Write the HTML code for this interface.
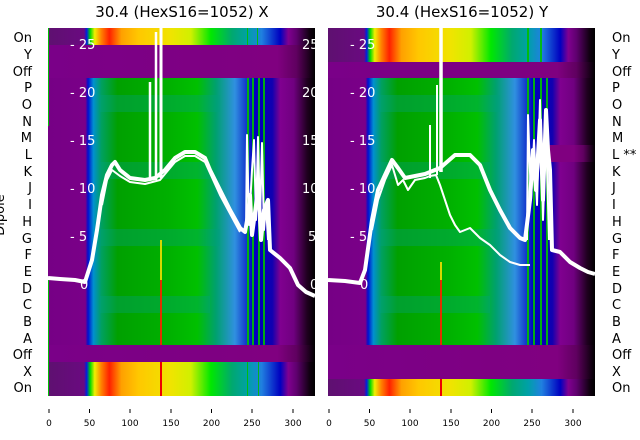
<!DOCTYPE html>
<html><head><meta charset="utf-8"><style>
html,body{margin:0;padding:0;background:#fff;}
svg{display:block;font-family:"DejaVu Sans","Liberation Sans",sans-serif;}
</style></head><body>
<svg width="640" height="440" viewBox="0 0 640 440" xmlns="http://www.w3.org/2000/svg">
<defs>
<linearGradient id="top" x1="0" x2="1" y1="0" y2="0">
<stop offset="0" stop-color="#5e1070"/><stop offset="0.135" stop-color="#6a0a80"/>
<stop offset="0.145" stop-color="#0020e0"/><stop offset="0.158" stop-color="#00d800"/>
<stop offset="0.175" stop-color="#f0f000"/><stop offset="0.2" stop-color="#ff8000"/>
<stop offset="0.23" stop-color="#ff2000"/><stop offset="0.275" stop-color="#ffa000"/>
<stop offset="0.34" stop-color="#ffc800"/><stop offset="0.46" stop-color="#f0e400"/>
<stop offset="0.535" stop-color="#d0f000"/><stop offset="0.61" stop-color="#00e800"/>
<stop offset="0.69" stop-color="#00a870"/><stop offset="0.75" stop-color="#00a0a8"/>
<stop offset="0.8" stop-color="#2080e0"/><stop offset="0.87" stop-color="#0000c0"/>
<stop offset="0.9" stop-color="#800090"/><stop offset="0.93" stop-color="#600070"/>
<stop offset="0.98" stop-color="#100010"/><stop offset="1" stop-color="#000"/>
</linearGradient>
<linearGradient id="band" x1="0" x2="1" y1="0" y2="0">
<stop offset="0" stop-color="#760085"/><stop offset="0.14" stop-color="#7a0088"/>
<stop offset="0.15" stop-color="#0010d0"/><stop offset="0.17" stop-color="#0090d0"/>
<stop offset="0.2" stop-color="#00a060"/><stop offset="0.26" stop-color="#00a000"/>
<stop offset="0.45" stop-color="#00b000"/><stop offset="0.56" stop-color="#00c000"/>
<stop offset="0.63" stop-color="#00a070"/><stop offset="0.7" stop-color="#3090e0"/>
<stop offset="0.77" stop-color="#0000c0"/><stop offset="0.84" stop-color="#1000b0"/>
<stop offset="0.87" stop-color="#800090"/><stop offset="0.92" stop-color="#700080"/>
<stop offset="0.97" stop-color="#200020"/><stop offset="1" stop-color="#000"/>
</linearGradient>
<linearGradient id="purp" x1="0" x2="1" y1="0" y2="0">
<stop offset="0" stop-color="#7a0088"/><stop offset="0.86" stop-color="#800080"/>
<stop offset="0.93" stop-color="#600060"/><stop offset="1" stop-color="#000"/>
</linearGradient>
<linearGradient id="purpR" x1="0" x2="1" y1="0" y2="0">
<stop offset="0" stop-color="#800080"/><stop offset="0.55" stop-color="#800080"/>
<stop offset="0.75" stop-color="#600060"/><stop offset="1" stop-color="#000"/>
</linearGradient>
<clipPath id="cl"><rect x="48" y="28" width="272" height="368"/></clipPath>
</defs>

<text x="182" y="17" font-size="15" text-anchor="middle">30.4 (HexS16=1052) X</text>
<text x="462" y="17" font-size="15" text-anchor="middle">30.4 (HexS16=1052) Y</text>

<!-- LEFT PANEL -->
<rect x="48" y="28" width="267" height="17" fill="url(#top)"/>
<rect x="48" y="45" width="267" height="33" fill="url(#purp)"/>
<rect x="48" y="78" width="267" height="267" fill="url(#band)"/>
<g fill="#00a080" opacity="0.35">
<rect x="100" y="95" width="120" height="17"/><rect x="100" y="162" width="110" height="17"/>
<rect x="100" y="229" width="120" height="17"/><rect x="100" y="296" width="110" height="17"/>
</g>
<rect x="48" y="345" width="267" height="17" fill="url(#purp)"/>
<rect x="48" y="362" width="267" height="34" fill="url(#top)"/>
<g fill="#00c000" opacity="0.9">
<rect x="247" y="78" width="2" height="267"/><rect x="252" y="78" width="2" height="267"/>
<rect x="258" y="78" width="2" height="267"/><rect x="263" y="78" width="2" height="267"/>
<rect x="247" y="28" width="1" height="17"/><rect x="257" y="28" width="1" height="17"/>
<rect x="247" y="362" width="1" height="34"/><rect x="258" y="362" width="1" height="34"/>
</g>
<rect x="160" y="280" width="2" height="65" fill="#e03000"/>
<rect x="160" y="362" width="2" height="34" fill="#ee0000"/>
<rect x="160" y="240" width="2" height="40" fill="#d8d800"/>
<rect x="48" y="28" width="1" height="98" fill="#00c000"/>
<rect x="48" y="280" width="1" height="116" fill="#00c000"/>

<g fill="#fff" font-size="13">
<text x="70" y="49">- 25</text><text x="70" y="97">- 20</text><text x="70" y="145">- 15</text>
<text x="70" y="193">- 10</text><text x="70" y="241">- 5</text><text x="80" y="289">0</text>
</g>
<g fill="#fff" font-size="13" clip-path="url(#cl)">
<text x="302" y="49">25</text><text x="302" y="97">20</text><text x="302" y="145">15</text>
<text x="302" y="193">10</text><text x="308" y="241">5</text><text x="310" y="289">0</text>
</g>

<g fill="none" stroke="#fff" stroke-linejoin="round" clip-path="url(#cl)">
<polyline stroke-width="4" points="48,278 60,279 75,280 85,282 92,260 97,230 102,195 107,175 112,165 115,162 120,170 130,178 145,180 155,178 165,170 175,158 185,152 195,152 205,158 210,170 220,190 230,210 240,228 245,232 248,215 250,195 252,235 256,205 258,180 261,240 264,210 268,200 270,250 280,258 290,268 298,285 306,292 315,296"/>
<polyline stroke-width="2" points="102,205 107,180 112,170 120,176 130,182 145,184 160,180 175,162 185,156 195,156 205,162 220,195 240,232"/>
<polyline stroke-width="2" points="246,230 247,135 249,225 252,170 254,140 256,220 258,137 260,220 262,143 264,230 266,205 268,240"/>
<line x1="150" y1="180" x2="150" y2="82" stroke-width="2.5"/>
<line x1="156" y1="180" x2="156" y2="32" stroke-width="2.5"/>
<line x1="161" y1="178" x2="161" y2="28" stroke-width="3"/>
</g>

<!-- RIGHT PANEL -->
<rect x="328" y="28" width="267" height="34" fill="url(#top)"/>
<rect x="328" y="62" width="267" height="16" fill="url(#purp)"/>
<rect x="328" y="78" width="267" height="267" fill="url(#band)"/>
<g fill="#00a080" opacity="0.35">
<rect x="380" y="95" width="120" height="17"/><rect x="380" y="162" width="110" height="17"/>
<rect x="380" y="229" width="120" height="17"/><rect x="380" y="296" width="110" height="17"/>
</g>
<rect x="548" y="145" width="47" height="17" fill="url(#purpR)"/>
<rect x="328" y="345" width="267" height="34" fill="url(#purp)"/>
<rect x="328" y="379" width="267" height="17" fill="url(#top)"/>
<g fill="#00c000" opacity="0.9">
<rect x="527" y="78" width="2" height="267"/><rect x="533" y="78" width="2" height="267"/>
<rect x="540" y="78" width="2" height="267"/><rect x="546" y="78" width="2" height="267"/>
<rect x="527" y="28" width="2" height="34"/><rect x="540" y="28" width="2" height="34"/>
</g>
<rect x="440" y="280" width="2" height="65" fill="#e03000"/>
<rect x="440" y="379" width="2" height="17" fill="#ee0000"/>
<rect x="440" y="262" width="2" height="18" fill="#d8d800"/>
<g fill="#fff" font-size="13">
<text x="350" y="49">- 25</text><text x="350" y="97">- 20</text><text x="350" y="145">- 15</text>
<text x="350" y="193">- 10</text><text x="350" y="241">- 5</text><text x="360" y="289">0</text>
</g>
<g fill="none" stroke="#fff" stroke-linejoin="round">
<polyline stroke-width="4" points="328,280 345,281 360,283 365,270 372,220 378,190 385,175 392,160 398,168 405,178 415,176 425,174 440,168 455,155 470,155 480,165 490,190 500,210 510,228 520,238 525,240 530,200 533,150 536,190 540,120 543,200 546,110 548,150 550,170 552,250 560,252 570,262 580,268 588,272 595,274"/>
<polyline stroke-width="2" points="372,230 378,200 385,180 392,165 398,185 403,180 408,190 415,180 425,178 430,176 436,175 440,185 445,200 450,215 455,225 460,232 470,228 480,238 490,245 500,255 510,262 520,265 530,265"/>
<polyline stroke-width="2" points="527,240 528,115 531,200 534,140 537,205 540,100 543,220 546,130 549,240"/>
<line x1="430" y1="178" x2="430" y2="125" stroke-width="2"/>
<line x1="437" y1="175" x2="437" y2="85" stroke-width="2"/>
<line x1="441" y1="172" x2="441" y2="28" stroke-width="3.5"/>
</g>

<g font-size="13" text-anchor="end" fill="#000">
<text x="32" y="42">On</text><text x="32" y="59">Y</text><text x="32" y="76">Off</text>
<text x="32" y="92">P</text><text x="32" y="109">O</text><text x="32" y="126">N</text>
<text x="32" y="142">M</text><text x="32" y="159">L</text><text x="32" y="176">K</text>
<text x="32" y="192">J</text><text x="32" y="209">I</text><text x="32" y="226">H</text>
<text x="32" y="243">G</text><text x="32" y="259">F</text><text x="32" y="276">E</text>
<text x="32" y="293">D</text><text x="32" y="309">C</text><text x="32" y="326">B</text>
<text x="32" y="343">A</text><text x="32" y="359">Off</text><text x="32" y="376">X</text>
<text x="32" y="392">On</text>
</g>
<text transform="translate(4,215) rotate(-90)" font-size="13" text-anchor="middle">Dipole</text>
<g font-size="13" fill="#000">
<text x="612" y="42">On</text><text x="612" y="59">Y</text><text x="612" y="76">Off</text>
<text x="612" y="92">P</text><text x="612" y="109">O</text><text x="612" y="126">N</text>
<text x="612" y="142">M</text><text x="612" y="159">L **</text><text x="612" y="176">K</text>
<text x="612" y="192">J</text><text x="612" y="209">I</text><text x="612" y="226">H</text>
<text x="612" y="243">G</text><text x="612" y="259">F</text><text x="612" y="276">E</text>
<text x="612" y="293">D</text><text x="612" y="309">C</text><text x="612" y="326">B</text>
<text x="612" y="343">A</text><text x="612" y="359">Off</text><text x="612" y="376">X</text>
<text x="612" y="392">On</text>
</g>

<g stroke="#000" stroke-width="1">
<line x1="49" y1="409" x2="49" y2="413"/><line x1="89.5" y1="409" x2="89.5" y2="413"/><line x1="130" y1="409" x2="130" y2="413"/><line x1="171" y1="409" x2="171" y2="413"/><line x1="211.5" y1="409" x2="211.5" y2="413"/><line x1="252" y1="409" x2="252" y2="413"/><line x1="293" y1="409" x2="293" y2="413"/>
<line x1="329" y1="409" x2="329" y2="413"/><line x1="369.5" y1="409" x2="369.5" y2="413"/><line x1="410" y1="409" x2="410" y2="413"/><line x1="451" y1="409" x2="451" y2="413"/><line x1="491.5" y1="409" x2="491.5" y2="413"/><line x1="532" y1="409" x2="532" y2="413"/><line x1="573" y1="409" x2="573" y2="413"/>
</g>
<g font-size="9" text-anchor="middle" fill="#000">
<text x="49" y="426">0</text><text x="89.5" y="426">50</text><text x="130" y="426">100</text><text x="171" y="426">150</text><text x="211.5" y="426">200</text><text x="252" y="426">250</text><text x="293" y="426">300</text>
<text x="329" y="426">0</text><text x="369.5" y="426">50</text><text x="410" y="426">100</text><text x="451" y="426">150</text><text x="491.5" y="426">200</text><text x="532" y="426">250</text><text x="573" y="426">300</text>
</g>
</svg>
</body></html>
